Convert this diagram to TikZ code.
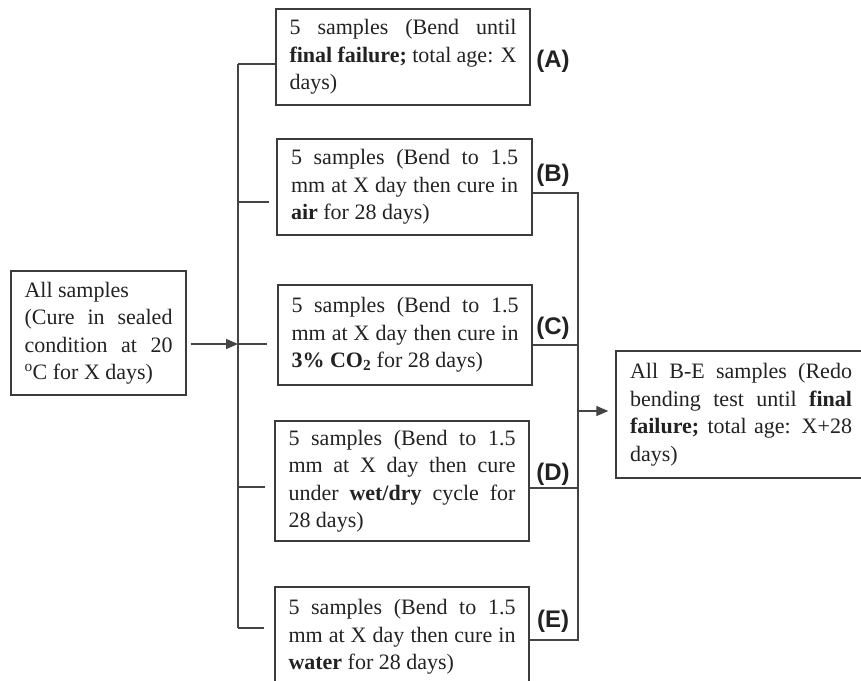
\documentclass[tikz,border=0pt]{standalone}
\usepackage{fontspec}
\setmainfont{Liberation Serif}
\newfontfamily\labfont{Liberation Sans}
\usetikzlibrary{arrows.meta}
\definecolor{boxgray}{HTML}{3C3C3C}
\definecolor{linegray}{HTML}{444444}
\definecolor{txt}{HTML}{222222}
\begin{document}
\begin{tikzpicture}[x=1pt,y=-1pt,
  box/.style={draw=boxgray, line width=1.4pt, inner sep=0pt, align=justify,
    font=\fontsize{22}{27.5}\selectfont, text=txt},
  lab/.style={font=\labfont\bfseries\fontsize{24}{26}\selectfont, inner sep=0pt, text=txt},
  conn/.style={draw=linegray, line width=1.3pt},
  arr/.style={conn, -{Triangle[length=12pt,width=10pt]}}]
\useasboundingbox (0,0) rectangle (861,680);
\clip (0,0) rectangle (861,680);

% boxes
\node[box, minimum width=175pt, minimum height=124pt, text width=148pt] (L) at (98.5,333)
  {All samples\\ (Cure in sealed\linebreak condition at 20\linebreak \textsuperscript{o}C for X days)};
\node[box, minimum width=254pt, minimum height=96pt, text width=227pt] (A) at (403,57)
  {5 samples (Bend until\linebreak \textbf{final failure;} total age: X\linebreak days)};
\node[box, minimum width=255pt, minimum height=96pt, text width=227pt] (B) at (404.5,187)
  {5 samples (Bend to 1.5\linebreak mm at X day then cure in\linebreak \textbf{air} for 28 days)};
\node[box, minimum width=254pt, minimum height=100pt, text width=227pt] (C) at (405,335)
  {5 samples (Bend to 1.5\linebreak mm at X day then cure in\linebreak \textbf{3\% CO\textsubscript{2}} for 28 days)};
\node[box, minimum width=254pt, minimum height=120pt, text width=227pt] (D) at (402,481)
  {5 samples (Bend to 1.5\linebreak mm at X day then cure\linebreak under \textbf{wet/dry} cycle for\linebreak 28 days)};
\node[box, minimum width=254pt, minimum height=100pt, text width=227pt] (E) at (402,637)
  {5 samples (Bend to 1.5\linebreak mm at X day then cure in\linebreak \textbf{water} for 28 days)};
\node[box, minimum width=250pt, minimum height=127pt, text width=222pt] (R) at (741,414.5)
  {All B-E samples (Redo\linebreak bending test until \textbf{final}\linebreak \textbf{failure;} total age: X+28\linebreak days)};

% labels
\node[lab] (la) at (553,61) {(A)};
\node[lab] (lb) at (553,175) {(B)};
\node[lab] (lc) at (553,328) {(C)};
\node[lab] (ld) at (553,474) {(D)};
\node[lab] (le) at (553,621) {(E)};

% junction points
\coordinate (tA) at (238,64);
\coordinate (tB) at (238,202);
\coordinate (tC) at (238,344);
\coordinate (tD) at (238,487);
\coordinate (tE) at (238,628);
\coordinate (rB) at (578,193);
\coordinate (rC) at (578,345);
\coordinate (rD) at (578,488);
\coordinate (rE) at (578,640);
\coordinate (rM) at (578,411);

% left tree
\draw[conn] (tA) -- (tE);
\draw[conn] (tA) -- (tA -| A.west);
\draw[conn, shorten >=7pt] (tB) -- (tB -| B.west);
\draw[conn, shorten >=10pt] (tC) -- (tC -| C.west);
\draw[conn, shorten >=9pt] (tD) -- (tD -| D.west);
\draw[conn, shorten >=10pt] (tE) -- (tE -| E.west);
\draw[arr, shorten <=4pt] (L.east |- tC) -- (tC);

% right tree
\draw[conn] (B.east |- rB) -- (rB) -- (rE) -- (E.east |- rE);
\draw[conn] (C.east |- rC) -- (rC);
\draw[conn] (D.east |- rD) -- (rD);
\draw[arr, shorten >=7pt] (rM) -- (R.west |- rM);
\end{tikzpicture}
\end{document}
